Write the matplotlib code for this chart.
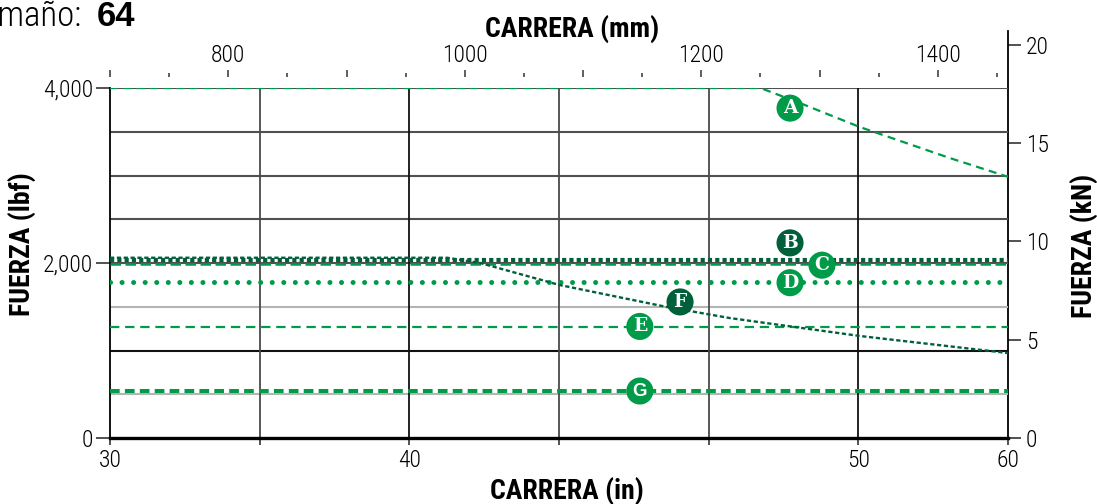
import numpy as np
import matplotlib
matplotlib.use("Agg")
import matplotlib.pyplot as plt
from matplotlib import font_manager

# fonts: condensed look if available
fontNames = {f.name for f in font_manager.fontManager.ttflist}


def pickFont(candidates):
    for name in candidates:
        if name in fontNames:
            return name
    return 'DejaVu Sans'


NARROW = pickFont(['Liberation Sans Narrow', 'Roboto Condensed', 'Open Sans Condensed',
                   'DejaVu Sans Condensed', 'Liberation Sans', 'Roboto'])
WIDE = pickFont(['Liberation Sans', 'Roboto', 'DejaVu Sans'])
isNarrow = NARROW in ('Liberation Sans Narrow', 'Roboto Condensed', 'Open Sans Condensed')
TICK_SIZE = 17 if isNarrow else 14.5
LABEL_SIZE = 20 if isNarrow else 16.5

GREEN = '#009b48'
DKGREEN = '#00603a'
LBF_PER_KN = 224.809

# ---- data (stroke in mm, force in lbf) ----
MM_MIN, MM_MAX = 700, 1459.3
A_mm = [700, 1250, 1283, 1334, 1410, 1459.3]
A_lbf = [4000, 4000, 3830, 3554, 3200, 2985]
B_mm = [700, 1459.3]
B_lbf = [2040, 2040]
C_mm = [700, 1459.3]
C_lbf = [1985, 1985]
D_mm = [700, 1459.3]
D_lbf = [1778, 1778]
E_mm = [700, 1459.3]
E_lbf = [1272, 1272]
F_mm = [700, 985, 1013, 1080, 1171, 1224, 1334, 1459.3]
F_lbf = [2060, 2060, 2000, 1749, 1497, 1371, 1166, 971]
G_mm = [700, 1459.3]
G_lbf = [537, 537]

# label bubbles
tagNames = ['A', 'B', 'C', 'D', 'E', 'F', 'G']
tagMm = [1275, 1275, 1302, 1275, 1148, 1182, 1148]
tagLbf = [3770, 2230, 1975, 1775, 1275, 1555, 537]
tagDark = [False, True, False, False, False, True, False]

# axis ticks
inchLabels = ['30', '', '40', '', '', '50', '60']
lbfTicks = [0, 2000, 4000]
kNTicks = [0, 5, 10, 15, 20]
mmMajor = [700, 800, 900, 1000, 1100, 1200, 1300, 1400]
mmLabeled = [800, 1000, 1200, 1400]
mmMinor = [750, 850, 950, 1050, 1150, 1250, 1350, 1450]
gridLbf = [500, 1000, 1500, 2000, 2500, 3000, 3500, 4000]
gridColors = ['#b4b4b4', '#111111', '#b4b4b4', '#505050', '#505050', '#505050', '#505050', '#505050']

W, H = 1097, 504
L, R, BOT, TOP = 110, 1008, 438, 88
fig = plt.figure(figsize=(W / 100, H / 100), dpi=100)

# right kN axis (taller than the plot)
KTOP = 31
axk = fig.add_axes([L / W, 1 - BOT / H, (R - L) / W, (BOT - KTOP) / H])
axk.set_ylim(0, 4000 / LBF_PER_KN * (BOT - KTOP) / (BOT - TOP))
axk.patch.set_visible(False)
axk.xaxis.set_visible(False)
for s in ('left', 'top', 'bottom'):
    axk.spines[s].set_visible(False)
axk.spines['right'].set_linewidth(1.3)
axk.yaxis.tick_right()
axk.set_yticks(kNTicks)
axk.tick_params(axis='y', direction='out', length=9, width=1.1, pad=4,
                labelsize=TICK_SIZE, color='#222222')
for t in axk.get_yticklabels():
    t.set_family(NARROW)
    t.set_fontweight('light')

ax = fig.add_axes([L / W, 1 - BOT / H, (R - L) / W, (BOT - TOP) / H])
ax.patch.set_visible(False)
ax.set_xlim(MM_MIN, MM_MAX)
ax.set_ylim(0, 4000)

gridMm = np.linspace(MM_MIN, MM_MAX, len(inchLabels))
for y, c in zip(gridLbf, gridColors):
    ax.axhline(y, color=c, lw=1.5, zorder=1)
for i, x in enumerate(gridMm[1:-1]):
    ax.axvline(x, color='#111111' if i in (1, 4) else '#4a4a4a', lw=1.3, zorder=1)

ax.set_xticks(gridMm)
ax.set_xticklabels(inchLabels)
ax.set_yticks(lbfTicks)
ax.set_yticklabels(['{:,}'.format(v) for v in lbfTicks])
ax.tick_params(axis='x', direction='out', length=5, width=1.2, pad=3,
               labelsize=TICK_SIZE, color='#333333')
ax.tick_params(axis='y', direction='out', length=10, width=1.2, pad=2,
               labelsize=TICK_SIZE, color='#333333')
for t in ax.get_xticklabels() + ax.get_yticklabels():
    t.set_family(NARROW)
    t.set_fontweight('light')
ax.spines['top'].set_visible(False)
ax.spines['right'].set_visible(False)
ax.spines['left'].set_linewidth(1.3)
ax.spines['bottom'].set_linewidth(2.4)

# series
ax.plot(A_mm, A_lbf, color=GREEN, lw=1.6, linestyle=(0, (3.6, 2.4)), zorder=3)
ax.plot(C_mm, C_lbf, color=GREEN, lw=1.8, linestyle=(0, (4.2, 1.8)), zorder=3)
ax.plot(D_mm, D_lbf, color=GREEN, lw=3.6, linestyle=(0, (0.01, 2.3)),
        dash_capstyle='round', zorder=3)
ax.plot(E_mm, E_lbf, color=GREEN, lw=1.6, linestyle=(0, (4.2, 2.6)), zorder=3)
ax.plot(G_mm, G_lbf, color=GREEN, lw=2.9, linestyle=(0, (2.4, 1.3)), zorder=3)
ax.plot(F_mm, F_lbf, color=DKGREEN, lw=1.7, linestyle=(0, (1.8, 1.1)), zorder=4)
ax.plot(B_mm, B_lbf, color=DKGREEN, lw=3.0, linestyle=(0, (1.0, 0.75)), zorder=4)

# letter bubbles
for name, x, y, dark in zip(tagNames, tagMm, tagLbf, tagDark):
    col = DKGREEN if dark else GREEN
    ax.scatter([x], [y], s=380, color=col, edgecolors='none', zorder=6)
    fam = WIDE if name == 'G' else 'DejaVu Serif'
    ax.text(x, y, name, color='white', fontsize=13.5, fontweight='bold', family=fam,
            ha='center', va='center', zorder=7)

# top mm axis, floating a bit above the plot
axt = ax.twiny()
axt.set_xlim(MM_MIN, MM_MAX)
for s in axt.spines.values():
    s.set_visible(False)
axt.spines['top'].set_position(('outward', 8))
axt.set_xticks(mmMajor)
axt.set_xticklabels([str(v) if v in mmLabeled else '' for v in mmMajor])
axt.set_xticks(mmMinor, minor=True)
axt.tick_params(axis='x', which='major', direction='out', length=5, width=1.1,
                pad=2, labelsize=TICK_SIZE, color='#333333')
axt.tick_params(axis='x', which='minor', direction='out', length=3.2, width=1.1, color='#333333')
for t in axt.get_xticklabels():
    t.set_family(NARROW)
    t.set_fontweight('light')

# titles / axis names
fig.text(82 / W, 1 - 26 / H, 'Tamaño:', family=NARROW, fontsize=25, fontweight='light',
         ha='right', va='baseline')
fig.text(97 / W, 1 - 26 / H, '64', family=WIDE, fontsize=25, fontweight='bold',
         ha='left', va='baseline')
fig.text(572 / W, 1 - 37 / H, 'CARRERA (mm)', family=NARROW, fontsize=LABEL_SIZE,
         fontweight='bold', ha='center', va='baseline')
fig.text(567 / W, 1 - 499 / H, 'CARRERA (in)', family=NARROW, fontsize=LABEL_SIZE,
         fontweight='bold', ha='center', va='baseline')
fig.text(22 / W, 1 - 244 / H, 'FUERZA (lbf)', family=NARROW, fontsize=LABEL_SIZE,
         fontweight='bold', rotation=90, ha='center', va='center')
fig.text(1084 / W, 1 - 246 / H, 'FUERZA (kN)', family=NARROW, fontsize=LABEL_SIZE,
         fontweight='bold', rotation=90, ha='center', va='center')

fig.savefig('out.png', dpi=100, facecolor='white')
